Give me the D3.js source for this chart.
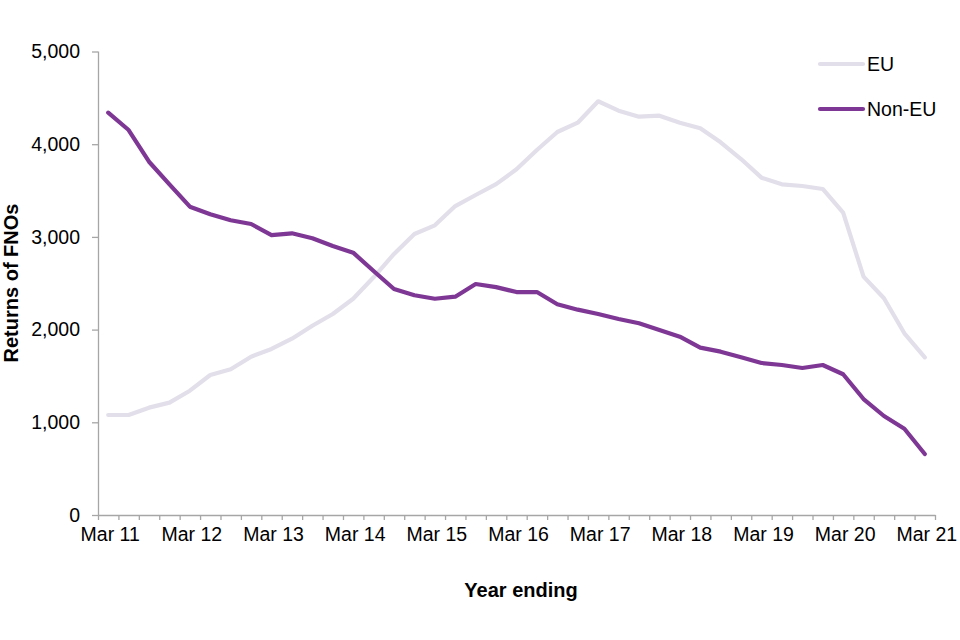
<!DOCTYPE html>
<html>
<head>
<meta charset="utf-8">
<script src="https://cdn.jsdelivr.net/npm/d3@7"></script>
<style>
  body { margin: 0; background: #fff; }
  svg { display: block; font-family: "Liberation Sans", Arial, sans-serif; }
</style>
</head>
<body>
<svg id="chart" width="960" height="640"></svg>
<script>
// year ending, quarterly
const quarters = d3.range(41);
const yearLabels = ['Mar 11', 'Mar 12', 'Mar 13', 'Mar 14', 'Mar 15', 'Mar 16',
    'Mar 17', 'Mar 18', 'Mar 19', 'Mar 20', 'Mar 21'];

const euValues = [1079, 1079, 1158, 1212, 1341, 1510, 1572, 1708, 1791, 1902,
    2042, 2168, 2333, 2564, 2816, 3031, 3125, 3333, 3452, 3569,
    3729, 3937, 4132, 4232, 4463, 4362, 4297, 4308, 4232, 4171,
    4021, 3840, 3639, 3567, 3549, 3517, 3261, 2571, 2338, 1960, 1701];

const nonEuValues = [4340, 4153, 3811, 3567, 3326, 3244, 3179, 3139, 3020, 3039,
    2985, 2902, 2830, 2632, 2438, 2370, 2333, 2355, 2492, 2458,
    2405, 2405, 2273, 2215, 2168, 2114, 2068, 1996, 1924, 1805,
    1762, 1701, 1640, 1618, 1586, 1618, 1518, 1251, 1068, 931, 658];

const yTicks = [0, 1000, 2000, 3000, 4000, 5000];

const series = [
    { name: 'EU', values: euValues, color: '#e3dfea' },
    { name: 'Non-EU', values: nonEuValues, color: '#7e3794' },
];

const svg = d3.select('#chart');
const plotLeft = 98, plotRight = 935, plotTop = 51.5, plotBottom = 515;
const axisColor = '#a6a6a6';

const x = d3.scaleBand().domain(quarters).range([plotLeft, plotRight]).padding(0);
const xEdge = d3.scaleLinear().domain([0, quarters.length]).range([plotLeft, plotRight]);
const y = d3.scaleLinear().domain([0, 5000]).range([plotBottom, plotTop]);

// y axis
const yAxis = svg.append('g')
    .attr('transform', `translate(${plotLeft},0)`)
    .call(d3.axisLeft(y).tickValues(yTicks).tickFormat(d3.format(',')).tickSize(6).tickPadding(12).tickSizeOuter(0));
yAxis.selectAll('text').attr('font-size', '19.5px').attr('fill', '#000');

// x axis: tick marks at quarter boundaries
const xTicks = svg.append('g')
    .attr('transform', `translate(0,${plotBottom})`)
    .call(d3.axisBottom(xEdge).tickValues(d3.range(quarters.length + 1)).tickFormat('').tickSize(5).tickSizeOuter(0));

// x axis labels every four quarters
const xLabels = svg.append('g')
    .attr('transform', `translate(2,${plotBottom})`)
    .call(d3.axisBottom(x).tickValues(quarters.filter(i => i % 4 === 0))
        .tickFormat(i => yearLabels[i / 4]).tickSize(0).tickPadding(12.5));
xLabels.select('.domain').remove();
xLabels.selectAll('text').attr('font-size', '19.5px').attr('fill', '#000');

[yAxis, xTicks].forEach(g => {
    g.selectAll('.domain, line').attr('stroke', axisColor).attr('stroke-width', 1.3);
});
yAxis.select('.domain').attr('d', `M0.5,${plotTop}V${plotBottom}`);

// lines
const line = d3.line()
    .x((d, i) => x(i) + x.bandwidth() / 2)
    .y(d => y(d));

svg.append('g').selectAll('path')
    .data(series)
    .join('path')
    .attr('d', d => line(d.values))
    .attr('fill', 'none')
    .attr('stroke', d => d.color)
    .attr('stroke-width', 4.2)
    .attr('stroke-linejoin', 'round')
    .attr('stroke-linecap', 'round');

// legend
const legend = svg.append('g').selectAll('g')
    .data(series)
    .join('g')
    .attr('transform', (d, i) => `translate(820,${64 + i * 45})`);
legend.append('line')
    .attr('x1', 0).attr('x2', 43)
    .attr('stroke', d => d.color)
    .attr('stroke-width', 4.2)
    .attr('stroke-linecap', 'round');
legend.append('text')
    .attr('x', 47).attr('dy', '0.36em')
    .attr('font-size', '19.5px')
    .text(d => d.name);

// axis titles
svg.append('text')
    .attr('transform', 'translate(18,283) rotate(-90)')
    .attr('text-anchor', 'middle')
    .attr('font-size', '20px')
    .attr('font-weight', 'bold')
    .text('Returns of FNOs');

svg.append('text')
    .attr('x', 521).attr('y', 597)
    .attr('text-anchor', 'middle')
    .attr('font-size', '20px')
    .attr('font-weight', 'bold')
    .text('Year ending');
</script>
</body>
</html>
